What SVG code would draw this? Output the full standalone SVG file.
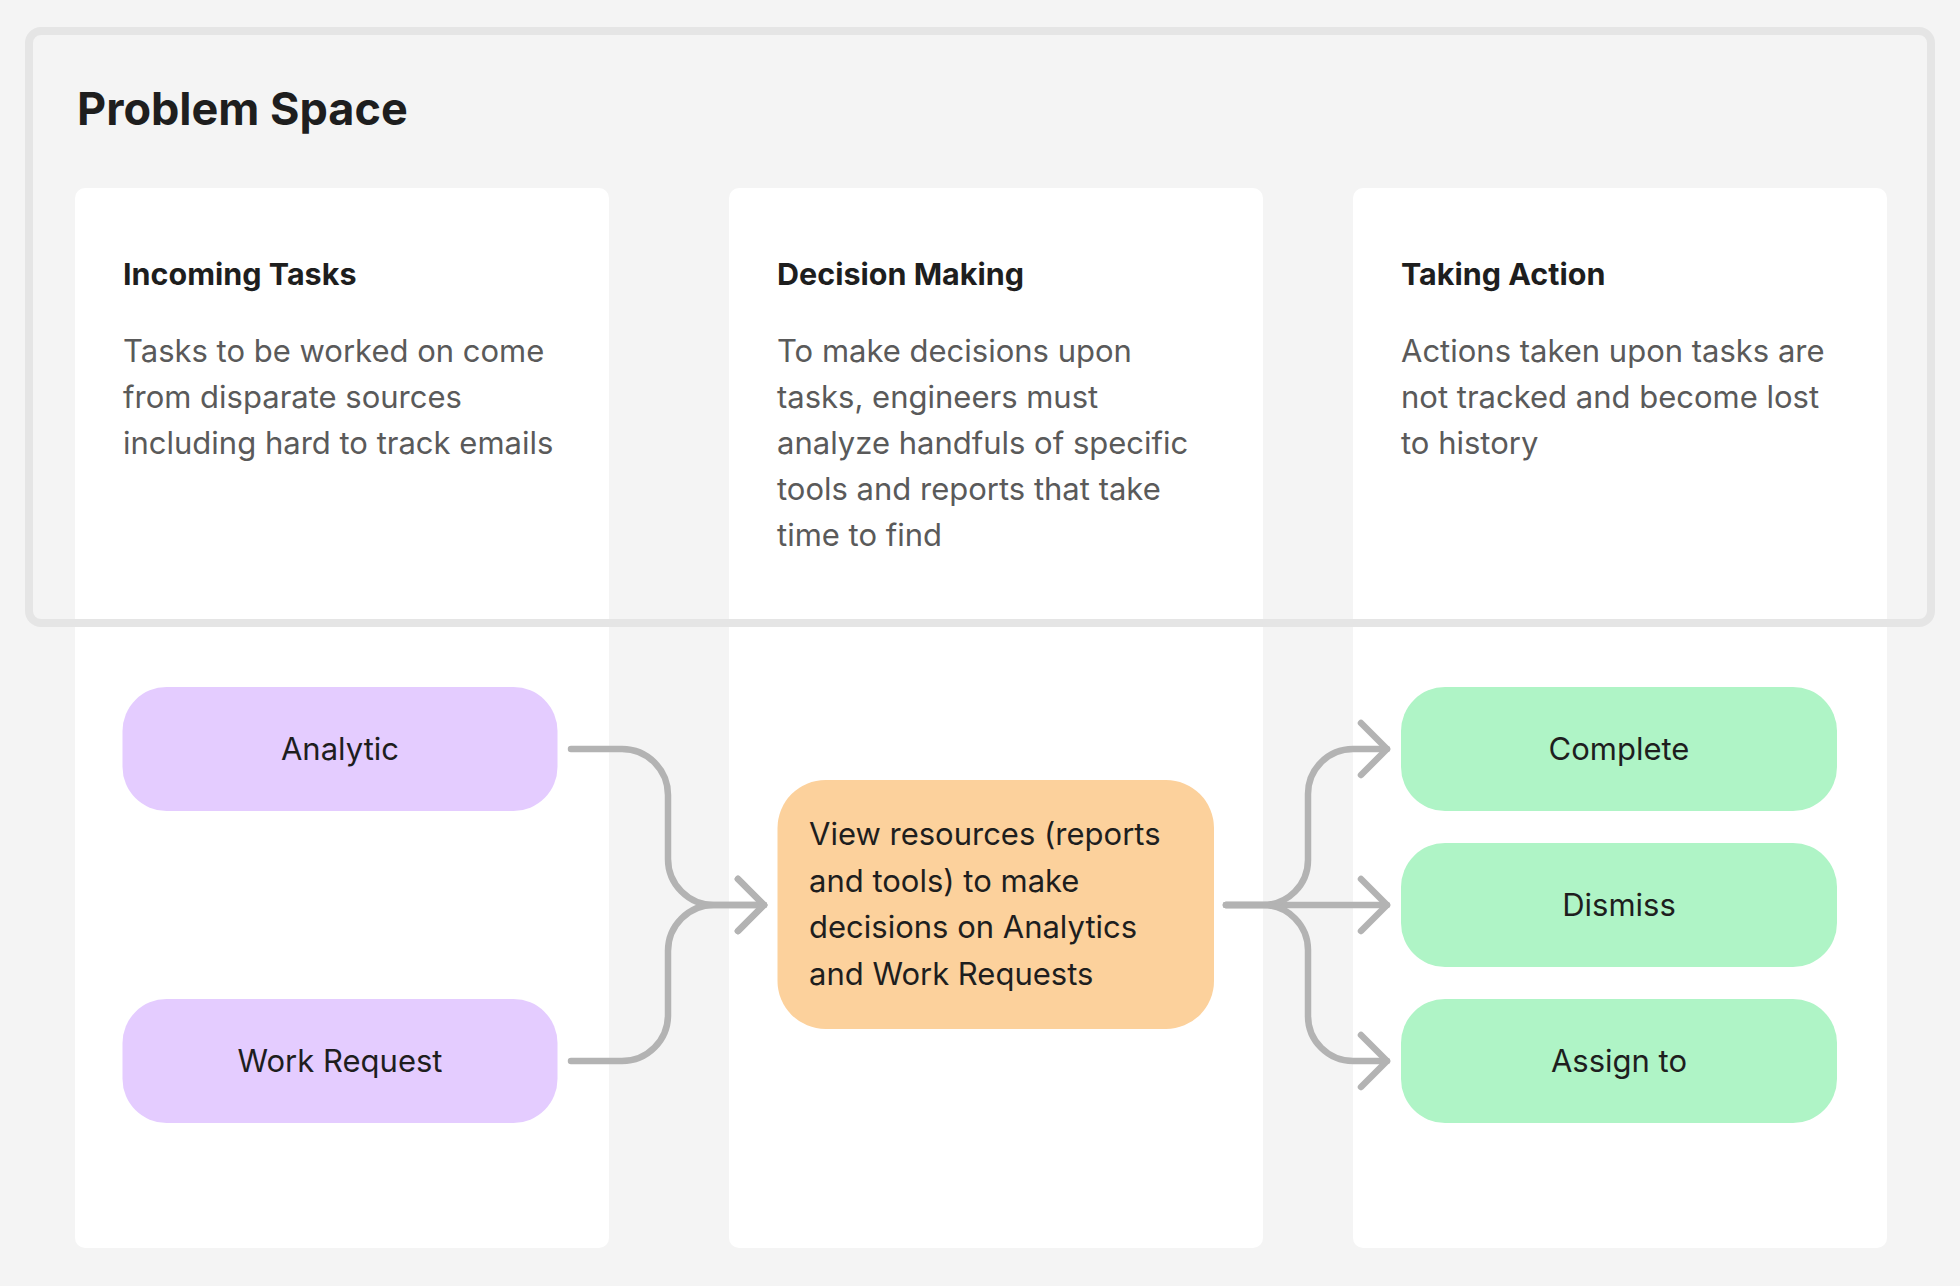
<svg xmlns="http://www.w3.org/2000/svg" width="1960" height="1286" viewBox="0 0 1960 1286">
  <defs>
    <style>
      .card { fill: #ffffff; }
      .frame { fill: none; stroke: #e5e5e5; stroke-width: 8; }
      .title { font-family: Inter, "Liberation Sans", sans-serif; font-size: 45px; font-weight: 700; fill: #1e1e1e; }
      .head { font-family: Inter, "Liberation Sans", sans-serif; font-size: 30.5px; font-weight: 700; fill: #1e1e1e; }
      .body { font-family: Inter, "Liberation Sans", sans-serif; font-size: 31px; font-weight: 400; fill: #5a5a5a; }
      .label { font-family: Inter, "Liberation Sans", sans-serif; font-size: 31px; font-weight: 400; fill: #1e1e1e; }
      .mid { text-anchor: middle; }
      .purple { fill: #e4ccff; }
      .green { fill: #aff4c6; }
      .orange { fill: #fcd19c; }
      .conn { fill: none; stroke: #b3b3b3; stroke-width: 6.5; stroke-linecap: round; stroke-linejoin: round; }
    </style>
    <marker id="arrow" markerUnits="userSpaceOnUse" markerWidth="44" markerHeight="70" viewBox="-36 -35 44 70" refX="0" refY="0" orient="auto">
      <path d="M-26,-26 L0,0 L-26,26" fill="none" stroke="#b3b3b3" stroke-width="6.5" stroke-linecap="round" stroke-linejoin="round"/>
    </marker>
  </defs>

  <rect x="0" y="0" width="1960" height="1286" fill="#f4f4f4"/>

  <g id="card-incoming">
    <rect class="card" x="75" y="188" width="534" height="1060" rx="10"/>
  </g>
  <g id="card-decision">
    <rect class="card" x="729" y="188" width="534" height="1060" rx="10"/>
  </g>
  <g id="card-action">
    <rect class="card" x="1353" y="188" width="534" height="1060" rx="10"/>
  </g>

  <g id="problem-space">
    <rect class="frame" x="29" y="31" width="1902" height="592" rx="12"/>
    <text class="title" x="77" y="125">Problem Space</text>
  </g>

  <g id="text-incoming">
    <text class="head" x="123" y="285">Incoming Tasks</text>
    <text class="body" x="123" y="362">Tasks to be worked on come</text>
    <text class="body" x="123" y="408">from disparate sources</text>
    <text class="body" x="123" y="454">including hard to track emails</text>
  </g>
  <g id="text-decision">
    <text class="head" x="777" y="285">Decision Making</text>
    <text class="body" x="777" y="362">To make decisions upon</text>
    <text class="body" x="777" y="408">tasks, engineers must</text>
    <text class="body" x="777" y="454">analyze handfuls of specific</text>
    <text class="body" x="777" y="500">tools and reports that take</text>
    <text class="body" x="777" y="546">time to find</text>
  </g>
  <g id="text-action">
    <text class="head" x="1401" y="285">Taking Action</text>
    <text class="body" x="1401" y="362">Actions taken upon tasks are</text>
    <text class="body" x="1401" y="408">not tracked and become lost</text>
    <text class="body" x="1401" y="454">to history</text>
  </g>

  <g id="connectors">
    <path class="conn" marker-end="url(#arrow)" d="M571,749 H622 A46,46 0 0 1 668,795 V859 A46,46 0 0 0 714,905 H764"/>
    <path class="conn" marker-end="url(#arrow)" d="M571,1061 H622 A46,46 0 0 0 668,1015 V951 A46,46 0 0 1 714,905 H764"/>
    <path class="conn" marker-end="url(#arrow)" d="M1226,905 H1387"/>
    <path class="conn" marker-end="url(#arrow)" d="M1226,905 H1263 A45,45 0 0 0 1308,860 V794 A45,45 0 0 1 1353,749 H1387"/>
    <path class="conn" marker-end="url(#arrow)" d="M1226,905 H1263 A45,45 0 0 1 1308,950 V1016 A45,45 0 0 0 1353,1061 H1387"/>
  </g>

  <g id="node-analytic">
    <rect class="purple" x="122.5" y="687" width="435" height="124" rx="44"/>
    <text class="label mid" x="340" y="760">Analytic</text>
  </g>
  <g id="node-work-request">
    <rect class="purple" x="122.5" y="999" width="435" height="124" rx="44"/>
    <text class="label mid" x="340" y="1072">Work Request</text>
  </g>
  <g id="node-view-resources">
    <rect class="orange" x="777.5" y="780" width="436.5" height="249" rx="48"/>
    <text class="label" x="809" y="845">View resources (reports</text>
    <text class="label" x="809" y="891.7">and tools) to make</text>
    <text class="label" x="809" y="938.3">decisions on Analytics</text>
    <text class="label" x="809" y="985">and Work Requests</text>
  </g>
  <g id="node-complete">
    <rect class="green" x="1401" y="687" width="436" height="124" rx="44"/>
    <text class="label mid" x="1619" y="760">Complete</text>
  </g>
  <g id="node-dismiss">
    <rect class="green" x="1401" y="843" width="436" height="124" rx="44"/>
    <text class="label mid" x="1619" y="916">Dismiss</text>
  </g>
  <g id="node-assign">
    <rect class="green" x="1401" y="999" width="436" height="124" rx="44"/>
    <text class="label mid" x="1619" y="1072">Assign to</text>
  </g>
</svg>
